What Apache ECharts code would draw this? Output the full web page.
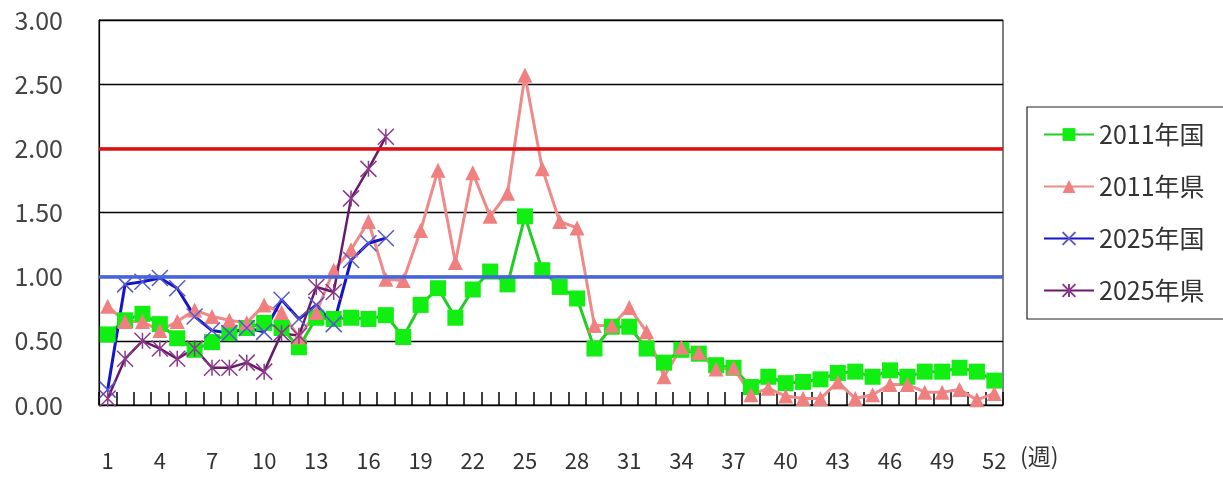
<!DOCTYPE html>
<html><head><meta charset="utf-8">
<script src="https://cdn.jsdelivr.net/npm/echarts@6/dist/echarts.min.js"></script>
<style>html,body{margin:0;padding:0;background:#fff}#c{width:1223px;height:490px}</style>
</head><body><div id="c"></div>
<script>
const weeks = Array.from({length:52},(_,i)=>String(i+1));
const yTicks = ['0.00','0.50','1.00','1.50','2.00','2.50','3.00'];
const kuni2011 = [0.55,0.66,0.71,0.63,0.52,0.43,0.49,0.56,0.60,0.64,0.60,0.45,0.68,0.67,0.68,0.67,0.70,0.53,0.78,0.91,0.68,0.90,1.04,0.94,1.47,1.05,0.92,0.83,0.44,0.61,0.61,0.44,0.33,0.43,0.40,0.31,0.29,0.14,0.22,0.17,0.18,0.20,0.25,0.26,0.22,0.27,0.22,0.26,0.26,0.29,0.26,0.19];
const ken2011 = [0.77,0.65,0.65,0.58,0.65,0.74,0.69,0.66,0.64,0.78,0.72,0.53,0.72,1.05,1.21,1.43,0.98,0.97,1.36,1.83,1.11,1.81,1.47,1.65,2.57,1.84,1.43,1.38,0.62,0.62,0.76,0.57,0.22,0.45,0.41,0.28,0.29,0.08,0.13,0.07,0.05,0.05,0.18,0.05,0.08,0.16,0.16,0.10,0.10,0.12,0.04,0.09];
const kuni2025 = [0.12,0.94,0.96,0.99,0.91,0.69,0.58,0.56,0.60,0.57,0.82,0.67,0.78,0.63,1.13,1.26,1.30];
const ken2025 = [0.05,0.36,0.50,0.44,0.36,0.44,0.29,0.29,0.33,0.26,0.56,0.54,0.92,0.88,1.61,1.84,2.09];
const warnLevel = 2.00;
const noteLevel = 1.00;
const seriesNames = ['2011年国','2011年県','2025年国','2025年県'];
const xUnit = '(週)';

const font = "'Noto Sans CJK JP','Noto Sans',sans-serif";
const chart = echarts.init(document.getElementById('c'), null, {renderer:'canvas'});
chart.setOption({
  animation:false,
  backgroundColor:'#fff',
  grid:{left:99,right:220,top:20,bottom:85,show:true,borderColor:'#000',borderWidth:1,backgroundColor:'transparent'},
  legend:{
    orient:'vertical', left:1027, top:107,
    padding:[15,40,16,16], itemGap:27, itemWidth:50, itemHeight:16,
    borderColor:'#222', borderWidth:1.2, backgroundColor:'#fff',
    textStyle:{fontFamily:font,fontSize:25,color:'#333'},
    data:seriesNames
  },
  graphic:[{type:'text',left:1020,top:445,style:{text:xUnit,font:"23px "+font,fill:'#333'}}],
  xAxis:{
    type:'category', data:weeks, boundaryGap:true,
    axisLine:{lineStyle:{color:'#000',width:1.2}},
    axisTick:{show:true,inside:true,length:13,interval:0,lineStyle:{color:'#000',width:1.5}},
    axisLabel:{interval:2,margin:45,fontFamily:font,fontSize:22,color:'#333'}
  },
  yAxis:{
    type:'value', min:0, max:3, interval:0.5,
    axisLine:{show:true,lineStyle:{color:'#000',width:1.2}},
    axisTick:{show:false},
    axisLabel:{margin:36,fontFamily:font,fontSize:25,color:'#444',
      formatter:(v)=>yTicks[Math.round(v*2)]},
    splitLine:{lineStyle:{color:'#000',width:1.3}}
  },
  series:[
    {name:seriesNames[0],type:'line',data:kuni2011,symbol:'rect',symbolSize:16,showAllSymbol:true,
      lineStyle:{color:'#22cc22',width:3},itemStyle:{color:'#11ee11'},
      markLine:{silent:true,symbol:'none',label:{show:false},
        data:[{yAxis:warnLevel,lineStyle:{color:'#dd1111',width:3.5,type:'solid'}},
              {yAxis:noteLevel,lineStyle:{color:'#4565dd',width:3.5,type:'solid'}}]}},
    {name:seriesNames[1],type:'line',data:ken2011,symbol:'triangle',symbolSize:15,showAllSymbol:true,
      lineStyle:{color:'#ee8a8a',width:3},itemStyle:{color:'#f08080'}},
    {name:seriesNames[2],type:'line',data:kuni2025,symbol:'path://M0,0L10,10M10,0L0,10',symbolSize:16,showAllSymbol:true,
      lineStyle:{color:'#1515c8',width:3},
      itemStyle:{color:'#1515c8',borderColor:'#5858c8',borderWidth:1.5}},
    {name:seriesNames[3],type:'line',data:ken2025,symbol:'path://M0,0L10,10M10,0L0,10M5,0L5,10',symbolSize:16,showAllSymbol:true,
      lineStyle:{color:'#6a1a6a',width:2.5},
      itemStyle:{color:'#6a1a6a',borderColor:'#8a3a8a',borderWidth:1.5}}
  ]
});
</script></body></html>
